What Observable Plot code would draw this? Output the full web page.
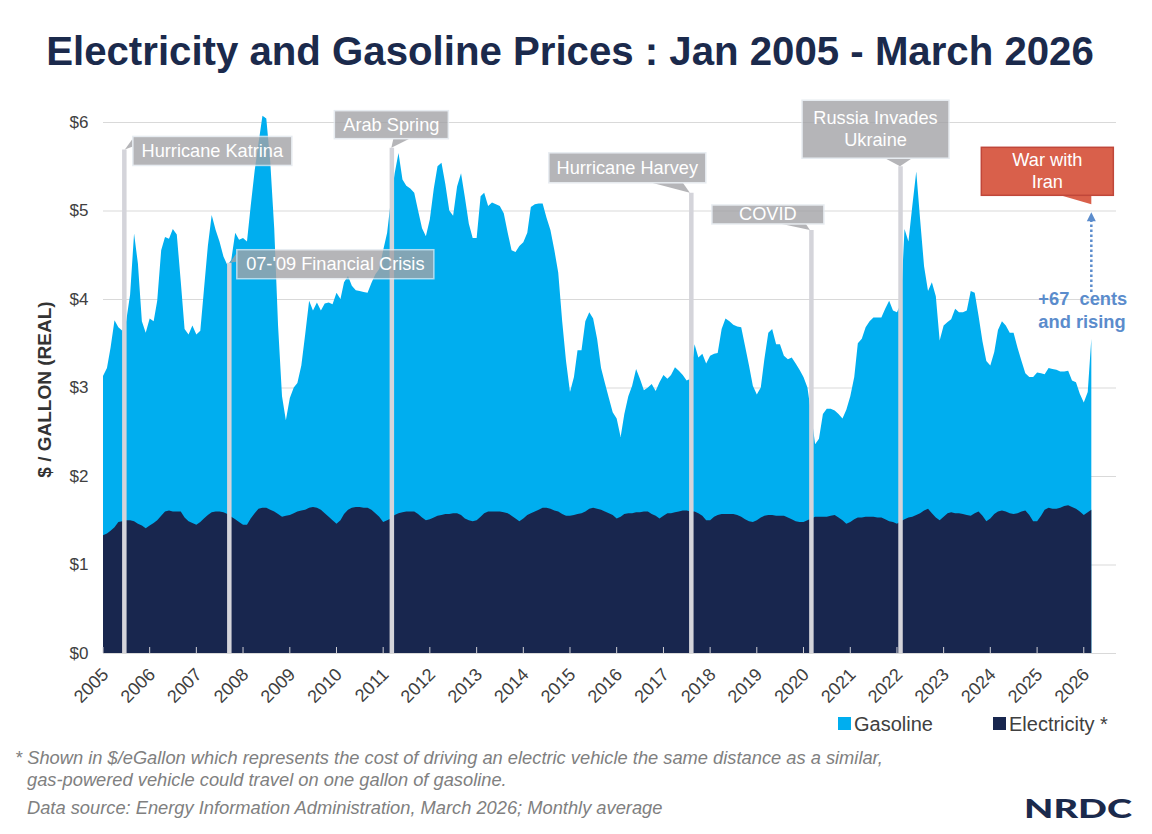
<!DOCTYPE html>
<html>
<head>
<meta charset="utf-8">
<script src="https://cdn.jsdelivr.net/npm/d3@7"></script>
<script src="https://cdn.jsdelivr.net/npm/@observablehq/plot@0.6"></script>
<style>
  body { margin: 0; background: #fff; font-family: "Liberation Sans", Arial, sans-serif; }
  #page { position: relative; width: 1152px; height: 834px; overflow: hidden; background: #fff; }
  .abs { position: absolute; white-space: pre; }
  #title { left: 0; width: 1140px; top: 28px; text-align: center; font-size: 40.2px; line-height: 48px; font-weight: bold; color: #1b2a4c; }
  .leg { font-size: 20px; line-height: 24px; color: #404040; top: 712px; }
  .sw { position: absolute; width: 13px; height: 13px; top: 717px; }
  .foot { font-size: 18.3px; line-height: 22px; font-style: italic; color: #808080; }
</style>
</head>
<body>
<div id="page">
  <div class="abs" id="title">Electricity and Gasoline Prices : Jan 2005 - March 2026</div>
  <div class="abs" id="chart" style="left:0;top:90px"></div>
  <div class="sw" style="left:838px;background:#00aeef"></div>
  <div class="abs leg" style="left:854px">Gasoline</div>
  <div class="sw" style="left:993px;background:#18264e"></div>
  <div class="abs leg" style="left:1009px">Electricity *</div>
  <div class="abs foot" style="left:15px;top:747px">* Shown in $/eGallon which represents the cost of driving an electric vehicle the same distance as a similar,</div>
  <div class="abs foot" style="left:27px;top:769px">gas-powered vehicle could travel on one gallon of gasoline.</div>
  <div class="abs foot" style="left:27px;top:797px">Data source: Energy Information Administration, March 2026; Monthly average</div>
  <svg class="abs" style="left:1020px;top:790px" width="124" height="36">
    <text x="4" y="28" font-family="Lato, 'DejaVu Sans', sans-serif" font-weight="900" font-size="26" fill="#1b2a4c" textLength="108" lengthAdjust="spacingAndGlyphs">NRDC</text>
  </svg>
</div>
<script>
// ---------- DATA ----------
const startYear = 2005; // first month: Jan 2005, monthly through Mar 2026
const gasoline = [
  3.13,3.22,3.45,3.76,3.68,3.64,3.75,4.05,4.74,4.40,3.75,3.62, // 2005
  3.78,3.75,3.98,4.55,4.70,4.68,4.79,4.73,4.20,3.66,3.60,3.70, // 2006
  3.60,3.64,4.10,4.60,4.95,4.78,4.65,4.48,4.38,4.44,4.75,4.67, // 2007
  4.69,4.65,5.05,5.45,5.76,6.07,6.04,5.55,4.80,3.70,2.90,2.63, // 2008
  2.88,3.00,3.05,3.25,3.60,3.98,3.87,3.96,3.87,3.95,3.96,3.94, // 2009
  4.07,4.00,4.19,4.26,4.15,4.10,4.09,4.08,4.07,4.18,4.28,4.34, // 2010
  4.55,4.75,5.10,5.42,5.65,5.35,5.28,5.25,5.20,5.00,4.80,4.71, // 2011
  4.90,5.25,5.50,5.54,5.30,5.00,4.94,5.27,5.42,5.15,4.85,4.69, // 2012
  4.69,5.16,5.20,5.05,5.09,5.07,5.05,4.97,4.75,4.55,4.53,4.60, // 2013
  4.64,4.75,5.04,5.07,5.08,5.08,4.92,4.78,4.55,4.30,3.75,3.30, // 2014
  2.95,3.12,3.42,3.42,3.75,3.85,3.78,3.55,3.22,3.05,2.88,2.72, // 2015
  2.65,2.44,2.70,2.90,3.02,3.21,3.10,2.97,3.00,3.04,2.96,3.06, // 2016
  3.14,3.10,3.14,3.23,3.19,3.14,3.08,3.10,3.49,3.34,3.38,3.27, // 2017
  3.36,3.38,3.39,3.66,3.78,3.75,3.71,3.69,3.68,3.47,3.25,3.02, // 2018
  2.92,3.00,3.32,3.62,3.66,3.49,3.49,3.36,3.32,3.34,3.27,3.20, // 2019
  3.12,3.00,2.70,2.36,2.42,2.70,2.76,2.76,2.74,2.70,2.65,2.75, // 2020
  2.90,3.12,3.50,3.55,3.68,3.75,3.79,3.79,3.79,3.89,3.98,3.87, // 2021
  3.85,3.95,4.79,4.65,5.05,5.44,4.90,4.37,4.09,4.19,4.03,3.53, // 2022
  3.70,3.74,3.77,3.89,3.85,3.85,3.87,4.09,4.07,3.81,3.52,3.30, // 2023
  3.25,3.40,3.65,3.75,3.70,3.62,3.62,3.45,3.30,3.16,3.12,3.12, // 2024
  3.17,3.16,3.15,3.22,3.21,3.20,3.18,3.18,3.19,3.08,3.06,2.93, // 2025
  2.83,2.95,3.55                                               // 2026
];
const electricity = [
  1.33,1.35,1.38,1.42,1.48,1.49,1.50,1.50,1.49,1.46,1.44,1.41, // 2005
  1.44,1.47,1.50,1.55,1.60,1.61,1.60,1.60,1.60,1.53,1.49,1.47, // 2006
  1.45,1.48,1.52,1.56,1.59,1.60,1.60,1.59,1.57,1.54,1.51,1.48, // 2007
  1.45,1.45,1.52,1.58,1.63,1.64,1.64,1.62,1.60,1.57,1.54,1.55, // 2008
  1.56,1.58,1.60,1.61,1.62,1.64,1.65,1.64,1.62,1.58,1.54,1.50, // 2009
  1.46,1.50,1.57,1.62,1.64,1.65,1.65,1.64,1.64,1.62,1.58,1.54, // 2010
  1.48,1.50,1.52,1.56,1.58,1.59,1.60,1.60,1.60,1.57,1.53,1.50, // 2011
  1.51,1.53,1.55,1.56,1.57,1.57,1.58,1.58,1.56,1.52,1.50,1.49, // 2012
  1.50,1.54,1.58,1.60,1.60,1.60,1.60,1.59,1.58,1.55,1.52,1.49, // 2013
  1.52,1.56,1.58,1.60,1.62,1.64,1.64,1.63,1.61,1.60,1.57,1.55, // 2014
  1.55,1.56,1.57,1.58,1.60,1.63,1.64,1.63,1.62,1.60,1.58,1.56, // 2015
  1.52,1.54,1.57,1.58,1.58,1.59,1.59,1.60,1.60,1.57,1.55,1.52, // 2016
  1.55,1.58,1.58,1.59,1.60,1.61,1.61,1.60,1.60,1.58,1.55,1.50, // 2017
  1.50,1.54,1.56,1.57,1.57,1.57,1.57,1.56,1.54,1.51,1.49,1.48, // 2018
  1.50,1.53,1.55,1.56,1.56,1.55,1.55,1.55,1.53,1.51,1.49,1.48, // 2019
  1.48,1.50,1.52,1.54,1.54,1.54,1.54,1.55,1.56,1.53,1.50,1.46, // 2020
  1.48,1.51,1.53,1.53,1.54,1.54,1.54,1.53,1.53,1.51,1.49,1.48, // 2021
  1.46,1.49,1.51,1.53,1.54,1.56,1.58,1.61,1.63,1.58,1.53,1.50, // 2022
  1.54,1.58,1.59,1.58,1.58,1.57,1.56,1.55,1.58,1.60,1.55,1.49, // 2023
  1.52,1.57,1.60,1.61,1.60,1.58,1.57,1.58,1.60,1.61,1.56,1.49, // 2024
  1.49,1.55,1.62,1.64,1.63,1.63,1.64,1.66,1.67,1.65,1.63,1.60, // 2025
  1.56,1.59,1.62                                               // 2026
];
const yearTicks = [2005,2006,2007,2008,2009,2010,2011,2012,2013,2014,2015,2016,2017,2018,2019,2020,2021,2022,2023,2024,2025,2026];
const yTicks = [0,1,2,3,4,5,6];
// Event markers (date of the marker line and the value its line reaches)
const eventLabels = [["Hurricane Katrina"],["07-'09 Financial Crisis"],["Arab Spring"],["Hurricane Harvey"],["COVID"],["Russia Invades","Ukraine"]];
const eventDates  = ["2005-06-13","2007-09-12","2011-03-06","2017-08-03","2020-02-28","2022-01-25"];
const eventTops   = [5.69, 4.41, 5.71, 5.20, 4.78, 5.50];
const iranLabel = ["War with","Iran"];
const iranTop = 5.07;            // tip of the "War with Iran" callout
const riseFrom = 4.08, riseTo = 4.98; // dotted arrow extent
const riseText = ["+67  cents","and rising"];

// ---------- BUILD ----------
const monthDate = i => new Date(Date.UTC(startYear, i, 1));
const gasData = gasoline.map((v, i) => ({date: monthDate(i), value: v}));
const elecData = electricity.map((v, i) => ({date: monthDate(i), value: v}));
const events = eventLabels.map((l, i) => ({label: l, date: new Date(eventDates[i] + "T00:00Z"), top: eventTops[i]}));
const yearDates = yearTicks.map(y => new Date(Date.UTC(y, 0, 1)));
const lastDate = gasData[gasData.length - 1].date;

const chart = Plot.plot({
  width: 1152, height: 620,
  marginTop: 32, marginBottom: 57, marginLeft: 103, marginRight: 36,
  style: {fontFamily: "'Liberation Sans', Arial, sans-serif", fontSize: "17px", color: "#404040", background: "transparent", overflow: "visible"},
  x: {type: "utc", domain: [new Date(Date.UTC(2005, 0, 1)), new Date(Date.UTC(2026, 8, 10))], label: null},
  y: {domain: [0, 6], label: null},
  marks: [
    Plot.gridY(yTicks, {stroke: "#d9d9d9", strokeOpacity: 1, strokeWidth: 1}),
    Plot.areaY(gasData, {x: "date", y1: 0, y2: "value", fill: "#00aeef"}),
    Plot.areaY(elecData, {x: "date", y1: 0, y2: "value", fill: "#18264e"}),
    Plot.ruleX(events, {x: "date", y1: 0, y2: "top", stroke: "#d4d4da", strokeWidth: 4.5}),
    Plot.axisY(yTicks, {tickFormat: d => "$" + d, tickSize: 0, tickPadding: 15, fontSize: 17}),
    Plot.axisX(yearDates, {tickFormat: d3.utcFormat("%Y"), tickRotate: -45, tickSize: 0, tickPadding: 18, dx: 2, fontSize: 18})
  ]
});
document.getElementById("chart").append(chart);

const sx = chart.scale("x"), sy = chart.scale("y");
const svg = d3.select(chart);
const yb = sy.apply(0);

// year tick marks (inside, pointing up)
svg.append("g").selectAll("line").data(yearDates).join("line")
  .attr("x1", d => sx.apply(d)).attr("x2", d => sx.apply(d))
  .attr("y1", yb).attr("y2", yb - 6)
  .attr("stroke", "#d0d0d6").attr("stroke-width", 1);

// y axis title
svg.append("text")
  .attr("transform", `translate(44,${(sy.apply(0) + sy.apply(6)) / 2 + 2}) rotate(-90)`)
  .attr("text-anchor", "middle").attr("dominant-baseline", "central")
  .attr("font-size", 19).attr("font-weight", "bold").attr("fill", "#333")
  .text("$ / GALLON (REAL)");

// callouts: pixel layout relative to the top of each marker line
const calloutLayout = [
  {box: [9, -13, 159, 29],   tail: [[9, -11], [1, 0], [9, -3]]},
  {box: [8, -13, 197, 29],   tail: [[8, -10], [1, 0], [8, -1]]},
  {box: [-57, -37, 114, 28], tail: [[2, -9], [0, 0], [18, -9]]},
  {box: [-142, -40, 157, 30], tail: [[-39, -10], [-1, 0], [-8, -10]]},
  {box: [-99, -25, 112, 19], tail: [[-29, -6], [-1, 0], [-5, -6]]},
  {box: [-98, -66, 147, 58], tail: [[-15, -8], [0, 0], [12, -8]]}
];
const cg = svg.append("g");
function drawCallout(px, py, L, lines, fill, stroke, opacity) {
  const g = cg.append("g").attr("opacity", opacity);
  const [bx, by, bw, bh] = L.box;
  g.append("path")
    .attr("d", "M" + L.tail.map(([a, b]) => [px + a, py + b]).join("L") + "Z")
    .attr("fill", fill);
  g.append("rect").attr("x", px + bx).attr("y", py + by).attr("width", bw).attr("height", bh)
    .attr("fill", fill).attr("stroke", stroke).attr("stroke-width", 1.5);
  const cx = px + bx + bw / 2, cy = py + by + bh / 2;
  lines.forEach((t, k) => {
    cg.append("text").attr("x", cx).attr("y", cy + (k - (lines.length - 1) / 2) * 22)
      .attr("text-anchor", "middle").attr("dominant-baseline", "central")
      .attr("font-size", 18.2).attr("fill", "#fff").text(t);
  });
}
events.forEach((e, i) => {
  drawCallout(sx.apply(e.date), sy.apply(e.top), calloutLayout[i], e.label, "#a3a3a7", "#e2e8ee", 0.8);
});
// War with Iran
const ix = sx.apply(lastDate), iy = sy.apply(iranTop);
drawCallout(ix, iy, {box: [-110, -57, 132, 48], tail: [[-31, -9], [0, 0], [0, -9]]}, iranLabel, "#d9604b", "#c0473a", 1);

// dotted arrow and note
const ay1 = sy.apply(riseFrom), ay2 = sy.apply(riseTo);
cg.append("line").attr("x1", ix).attr("x2", ix).attr("y1", ay1).attr("y2", ay2 + 6)
  .attr("stroke", "#5b8ccc").attr("stroke-width", 2.5).attr("stroke-dasharray", "2.5,2.5");
cg.append("path").attr("d", `M${ix},${ay2}L${ix - 4.5},${ay2 + 9}L${ix + 4.5},${ay2 + 9}Z`).attr("fill", "#5b8ccc");
riseText.forEach((t, k) => {
  cg.append("text").attr("x", ix - 53).attr("y", ay1 + 7 + k * 23)
    .attr("text-anchor", "start")
    .attr("dominant-baseline", "central").attr("font-size", 18.3).attr("font-weight", "bold")
    .attr("fill", "#5b8ccc").attr("xml:space", "preserve").style("white-space", "pre").text(t);
});
</script>
</body>
</html>
